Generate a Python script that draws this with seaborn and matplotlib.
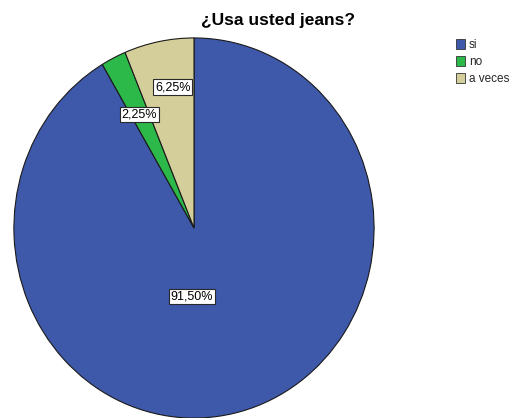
import numpy as np
import seaborn as sns
import matplotlib
matplotlib.use("Agg")
import matplotlib.pyplot as plt
from matplotlib.patches import Patch

# data
categories = ["si", "no", "a veces"]
percentages = [91.50, 2.25, 6.25]
title = "¿Usa usted jeans?"

# style
colors = ["#3E58AA", "#2DB84A", "#D4CF9A"]
label_radius = [0.36, 0.67, 0.75]
label_angle = [-92, 117, 99]

sns.set_theme(style="white")
plt.rcParams["font.family"] = ["Liberation Sans", "DejaVu Sans"]

fig = plt.figure(figsize=(5.11, 4.18), dpi=100)
# the pie in the reference is slightly taller than wide
ax = fig.add_axes([13 / 511, -1 / 418, 362 / 511, 382 / 418])

wedges, _ = ax.pie(percentages, colors=colors, startangle=90, counterclock=False,
                   radius=1.0, wedgeprops=dict(edgecolor="#1a1a1a", linewidth=0.8))
ax.set_aspect("auto")
ax.set_xlim(-1.005, 1.005)
ax.set_ylim(-1.005, 1.005)
for w in wedges:
    w.set_clip_on(False)

for pct, r, ang in zip(percentages, label_radius, label_angle):
    t = np.deg2rad(ang)
    txt = f"{pct:.2f}%".replace(".", ",")
    ax.text(r * np.cos(t), r * np.sin(t), txt, ha="center", va="center", fontsize=9,
            color="black",
            bbox=dict(boxstyle="square,pad=0.15", fc="white", ec="#2a2a2a", lw=0.8))

fig.text(278 / 511, 1 - 20 / 418, title, ha="center", va="center",
         fontsize=12.5, fontweight="bold", color="black")

handles = [Patch(facecolor=c, edgecolor="#333333", linewidth=0.6) for c in colors]
fig.legend(handles, categories, loc="upper left", bbox_to_anchor=(451 / 511, 1 - 34 / 418),
           frameon=False, fontsize=8.5, handlelength=0.8, handleheight=1.0,
           handletextpad=0.3, labelspacing=0.4, borderaxespad=0)

fig.savefig("out.png", dpi=100)
